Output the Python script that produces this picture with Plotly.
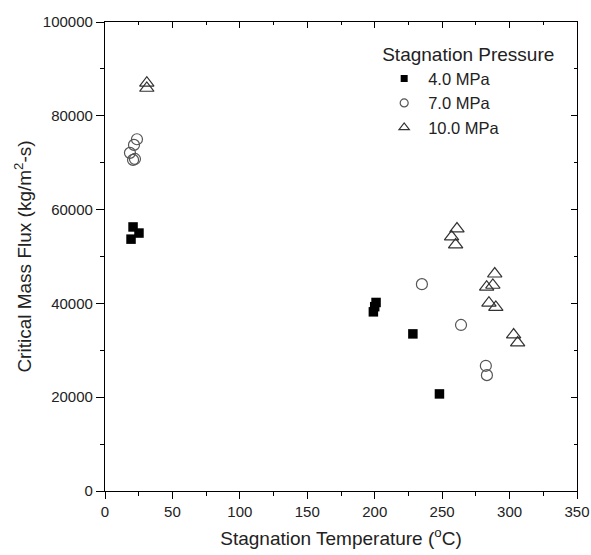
import plotly.graph_objects as go

# Data
t_40 = [20.8, 25.2, 19.3, 201, 200, 199, 228.3, 248]
g_40 = [56300, 55000, 53700, 40200, 39300, 38200, 33500, 20700]

t_70 = [23.7, 21.5, 18.5, 20.8, 22.2, 235, 264, 282.4, 283.2]
g_70 = [75000, 73800, 72100, 70600, 70800, 44100, 35400, 26700, 24700]

t_100 = [31, 31, 261, 257, 260, 289, 287.6, 283, 284.7, 289.8, 303, 306]
g_100 = [87000, 85900, 55900, 54200, 52500, 46300, 43900, 43500, 40100, 39200, 33300, 31600]

series_names = ["4.0 MPa", "7.0 MPa", "10.0 MPa"]
x_ticks = [0, 50, 100, 150, 200, 250, 300, 350]
y_ticks = [0, 20000, 40000, 60000, 80000, 100000]
y_ticktext = [str(v) for v in y_ticks]

FONT = "Liberation Sans, Arial, Helvetica, sans-serif"
TXT = "#222222"

sq = dict(symbol="square", color="black", line=dict(color="black", width=0))
ci = dict(symbol="circle-open", color="#555555", line=dict(width=1.2))
tr = dict(symbol="triangle-up-open", color="#333333", line=dict(width=1.2))

fig = go.Figure()
fig.add_trace(go.Scatter(x=t_40, y=g_40, mode="markers", showlegend=False,
                         marker=dict(size=9.5, **sq)))
fig.add_trace(go.Scatter(x=t_70, y=g_70, mode="markers", showlegend=False,
                         marker=dict(size=11, **ci)))
fig.add_trace(go.Scatter(x=t_100, y=g_100, mode="markers", showlegend=False,
                         marker=dict(size=12.5, **tr)))
# legend entries (smaller symbols, as in the reference)
for name, m, s in zip(series_names, [sq, ci, tr], [7, 8, 9]):
    fig.add_trace(go.Scatter(x=[None], y=[None], mode="markers", name=name,
                             marker=dict(size=s, **m)))
# invisible trace to anchor mirror axes
fig.add_trace(go.Scatter(x=[0], y=[0], xaxis="x2", yaxis="y2", mode="markers",
                         marker=dict(opacity=0), showlegend=False, hoverinfo="skip"))

axis_common = dict(showgrid=False, zeroline=False, showline=True, linecolor="black",
                   linewidth=1.2, tickcolor="black", tickwidth=1.2, automargin=False,
                   tickfont=dict(family=FONT, size=15, color=TXT))

fig.update_layout(
    width=591, height=555,
    margin=dict(l=105, r=14, t=22, b=64),
    paper_bgcolor="white", plot_bgcolor="white",
    font=dict(family=FONT, color=TXT),
    xaxis=dict(range=[0, 350], tickvals=x_ticks, ticks="outside", ticklen=7,
               minor=dict(dtick=25, tick0=0, ticks="outside", ticklen=4, tickcolor="black"),
               title=dict(text="Stagnation Temperature (<sup>o</sup>C)",
                          font=dict(family=FONT, size=19, color=TXT), standoff=12),
               **axis_common),
    yaxis=dict(range=[0, 100000], tickvals=y_ticks, ticktext=y_ticktext,
               ticks="outside", ticklen=8,
               minor=dict(dtick=10000, tick0=0, ticks="outside", ticklen=4, tickcolor="black"),
               title=dict(text="Critical Mass Flux (kg/m<sup>2</sup>-s)",
                          font=dict(family=FONT, size=19, color=TXT), standoff=6),
               **axis_common),
    xaxis2=dict(overlaying="x", matches="x", side="top", range=[0, 350], tickvals=x_ticks,
                ticks="inside", ticklen=6, showticklabels=False,
                minor=dict(dtick=25, tick0=0, ticks="inside", ticklen=3, tickcolor="black"),
                **axis_common),
    yaxis2=dict(overlaying="y", matches="y", side="right", range=[0, 100000], tickvals=y_ticks,
                ticks="inside", ticklen=6, showticklabels=False,
                minor=dict(dtick=10000, tick0=0, ticks="inside", ticklen=3, tickcolor="black"),
                **axis_common),
    legend=dict(x=0.583, y=0.969, xanchor="left", yanchor="top",
                bgcolor="rgba(0,0,0,0)", borderwidth=0,
                title=dict(text="Stagnation Pressure", font=dict(family=FONT, size=19, color=TXT)),
                font=dict(family=FONT, size=16.5, color=TXT),
                itemwidth=38, tracegroupgap=0),
)

fig.write_html("out.html")
